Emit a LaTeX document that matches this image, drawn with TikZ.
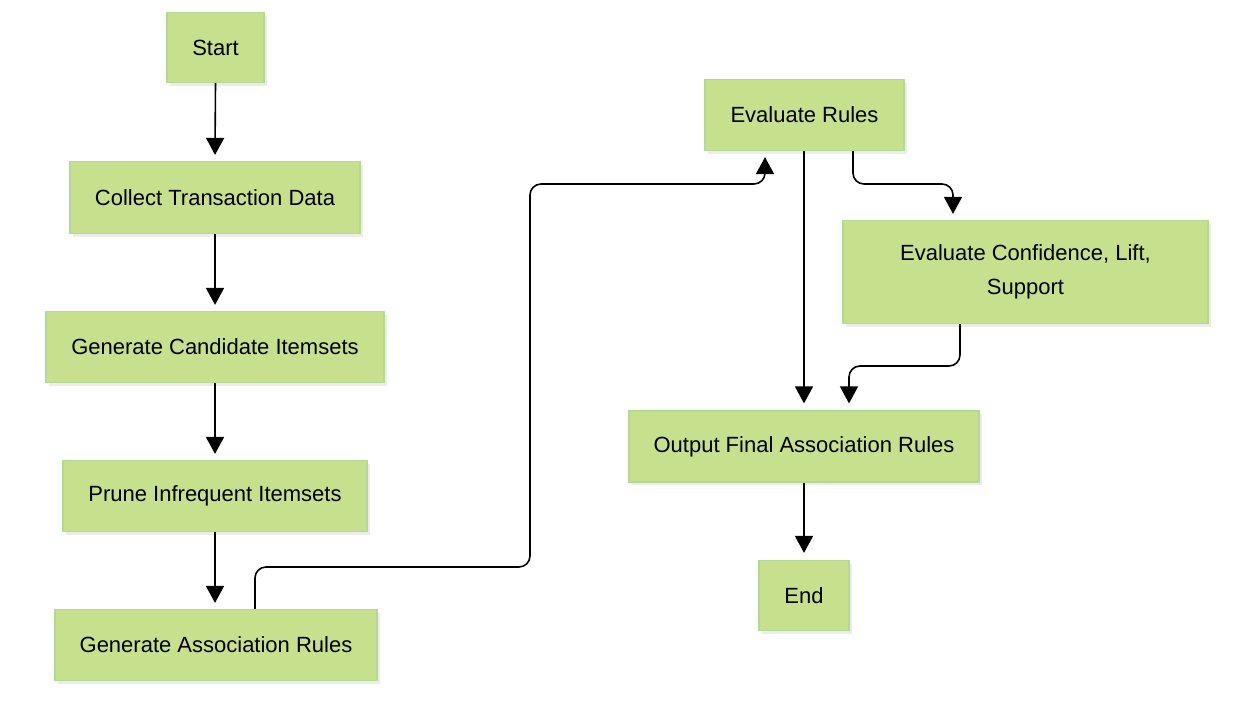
\documentclass[tikz,border=0pt]{standalone}
\usepackage{fontspec}
\setmainfont{Liberation Sans}
\usetikzlibrary{arrows.meta,shadows,calc}
\definecolor{boxfill}{HTML}{C6E08E}
\definecolor{boxline}{HTML}{B2DB92}
\tikzset{
  stepbox/.style={draw=boxline, line width=1.2pt, fill=boxfill, inner sep=0pt, align=center,
    font=\fontsize{22}{34}\selectfont,
    drop shadow={shadow xshift=3pt, shadow yshift=-3pt, opacity=0.12, fill=black!60}},
  arr/.style={draw=black, line width=1.6pt, -{Triangle[length=17pt,width=18pt]}},
  conn/.style={arr, rounded corners=11pt}
}
\begin{document}
\begin{tikzpicture}[x=1pt,y=-1pt]
\useasboundingbox (0,0) rectangle (1241,718);
\node[stepbox, minimum width=97pt, minimum height=70pt] (start) at (215.5,47.5) {Start};
\node[stepbox, minimum width=290pt, minimum height=72pt] (ctd) at (215,197.5) {Collect Transaction Data};
\node[stepbox, minimum width=338pt, minimum height=71pt] (gci) at (215,347) {Generate Candidate Itemsets};
\node[stepbox, minimum width=304pt, minimum height=71pt] (pii) at (215,496) {Prune Infrequent Itemsets};
\node[stepbox, minimum width=322pt, minimum height=71pt] (gar) at (216,645) {Generate Association Rules};
\node[stepbox, minimum width=199pt, minimum height=71pt] (er) at (804.5,115) {Evaluate Rules};
\node[stepbox, minimum width=365pt, minimum height=103pt] (ecl) at (1025.5,272) {Evaluate Confidence, Lift,\\Support};
\node[stepbox, minimum width=350pt, minimum height=71pt] (ofar) at (804,446.5) {Output Final Association Rules};
\node[stepbox, minimum width=90pt, minimum height=70pt] (end) at (804,595.5) {End};

\draw[arr] (start.south) -- ([yshift=6pt]ctd.north);
\draw[arr] (ctd.south) -- ([yshift=6pt]gci.north);
\draw[arr] (gci.south) -- ([yshift=6pt]pii.north);
\draw[arr] (pii.south) -- ([xshift=-1pt,yshift=6pt]gar.north);
\draw[conn] ([xshift=39pt]gar.north) -- (255,567) -- (530,567) -- (530,184) -- (765,184) -- ([xshift=-39.5pt,yshift=-6pt]er.south);
\draw[conn] ([xshift=48.5pt]er.south) -- (853,184) -- (953,184) -- ([xshift=-72.5pt,yshift=6pt]ecl.north);
\draw[arr] ([xshift=-0.5pt]er.south) -- ([yshift=7pt]ofar.north);
\draw[conn] ([xshift=-65.5pt]ecl.south) -- (960,366) -- (849,366) -- ([xshift=45pt,yshift=7pt]ofar.north);
\draw[arr] (ofar.south) -- ([yshift=7pt]end.north);
\end{tikzpicture}
\end{document}
